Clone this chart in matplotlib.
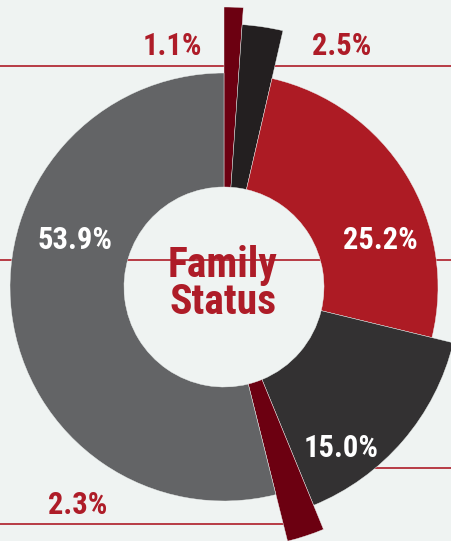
import matplotlib.pyplot as plt

# slices clockwise from 12 o'clock
labels = ["1.1%", "2.5%", "25.2%", "15.0%", "2.3%", "53.9%"]
shares = [1.1, 2.5, 25.2, 15.0, 2.3, 53.9]
radii = [280, 263, 214, 236, 262, 214]
colors = ["#6c0011", "#231f20", "#ad1b24", "#333132", "#6c0011", "#636466"]

bg = "#eff3f2"
red = "#ae1c28"
hole = 100
font = ["Roboto Condensed", "Roboto", "DejaVu Sans"]

fig = plt.figure(figsize=(4.51, 5.41), dpi=100, facecolor=bg)
ax = fig.add_axes([0, 0, 1, 1])
ax.set_facecolor(bg)

# pixel-like coordinates, centre of the donut at (224, 287) from top-left
cx, cy = 224, 287

# red guide lines behind the donut
ax.plot([-cx, 451 - cx], [cy - 66, cy - 66], color=red, lw=1.2, zorder=0)
ax.plot([-cx, 0], [cy - 260, cy - 260], color=red, lw=1.2, zorder=0)
ax.plot([0, 451 - cx], [cy - 260, cy - 260], color=red, lw=1.2, zorder=0)
ax.plot([0, 451 - cx], [cy - 468, cy - 468], color=red, lw=1.2, zorder=0)
ax.plot([-cx, 60], [cy - 524, cy - 524], color=red, lw=1.2, zorder=0)

wedges, _ = ax.pie(shares, colors=colors, startangle=90, counterclock=False,
                   radius=214, wedgeprops=dict(width=114, edgecolor=bg, linewidth=0.3))
for w, r in zip(wedges, radii):
    w.set_radius(r)
    w.set_width(r - hole)
    w.set_zorder(2)

ax.set_xlim(-cx, 451 - cx)
ax.set_ylim(cy - 541, cy)
ax.set_aspect("equal")
ax.axis("off")

def put(px, py, s, color, size=22):
    ax.text(px - cx, cy - py, s, color=color, fontsize=size, fontweight="bold",
            fontstretch="condensed", family=font, ha="center", va="center", zorder=5)

put(172, 46, labels[0], red)
put(342, 46, labels[1], red)
put(380, 240, labels[2], "white")
put(341, 448, labels[3], "white")
put(78, 505, labels[4], red)
put(75, 240, labels[5], "white")

put(223, 265, "Family", red, size=30)
put(223, 303, "Status", red, size=30)

fig.savefig("out.png", dpi=100, facecolor=bg)
